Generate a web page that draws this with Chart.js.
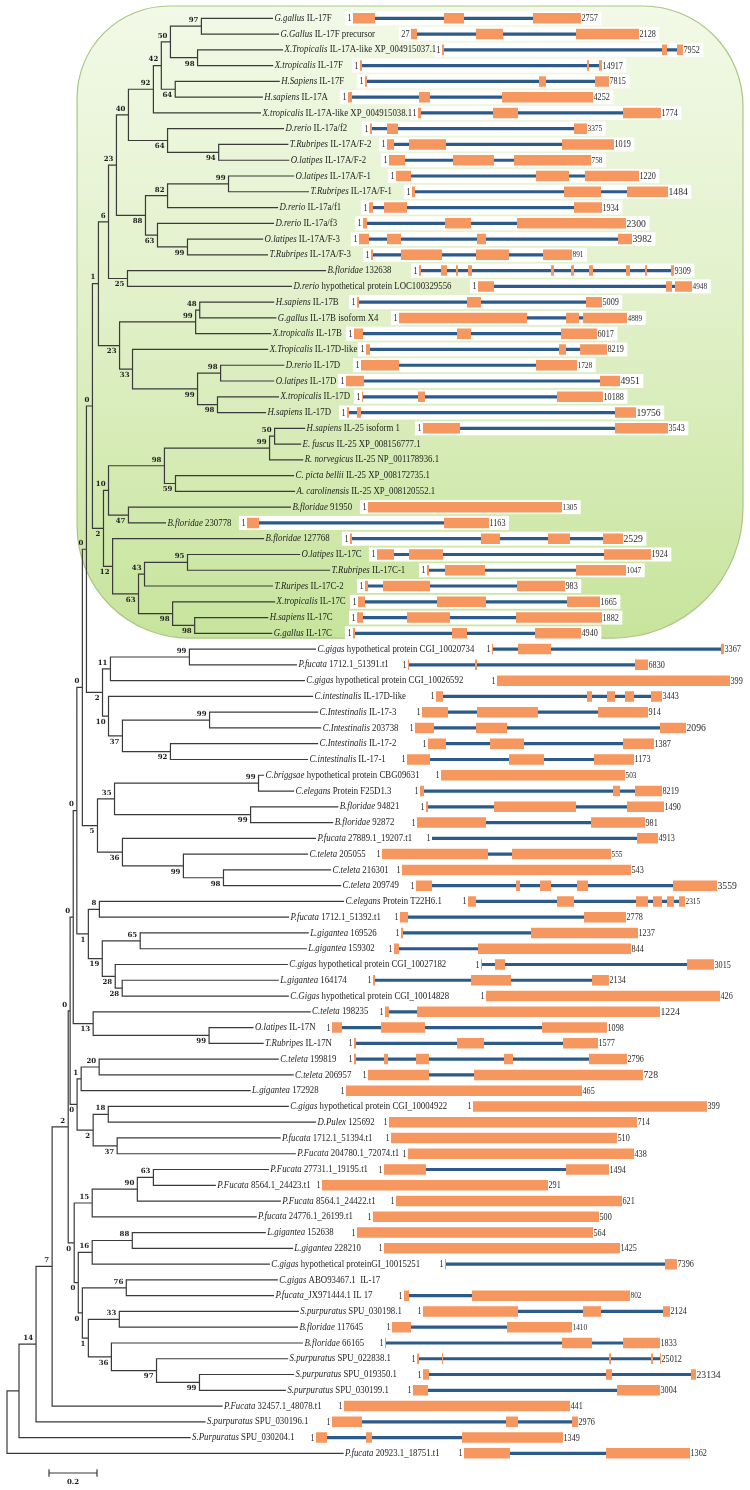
<!DOCTYPE html>
<html><head><meta charset="utf-8">
<script src="https://cdn.jsdelivr.net/npm/chart.js@4.4.1/dist/chart.umd.min.js"></script>
<style>html,body{margin:0;padding:0;background:#fff}#wrap{width:750px;height:1490px;position:relative}</style>
</head><body><div id="wrap"><canvas id="c" width="750" height="1490"></canvas></div>
<script>
// ---------- DATA ----------
const leafSpecies = ["G.gallus","G.Gallus","X.Tropicalis","X.tropicalis","H.Sapiens","H.sapiens","X.tropicalis","D.rerio","T.Rubripes","O.latipes",
"O.latipes","T.Rubripes","D.rerio","D.rerio","O.latipes","T.Rubripes","B.floridae","D.rerio","H.sapiens","G.gallus",
"X.tropicalis","X.Tropicalis","D.rerio","O.latipes","X.tropicalis","H.sapiens","H.sapiens","E. fuscus","R. norvegicus","C. picta bellii",
"A. carolinensis","B.floridae","B.floridae","B.floridae","O.latipes","T.Rubripes","T.Ruripes","X.tropicalis","H.sapiens","G.gallus",
"C.gigas","P.fucata","C.gigas","C.intestinalis","C.Intestinalis","C.Intestinalis","C.Intestinalis","C.intestinalis","C.briggsae","C.elegans",
"B.floridae","B.floridae","P.fucata","C.teleta","C.teleta","C.teleta","C.elegans","P.fucata","L.gigantea","L.gigantea",
"C.gigas","L.gigantea","C.Gigas","C.teleta","O.latipes","T.Rubripes","C.teleta","C.teleta","L.gigantea","C.gigas",
"D.Pulex","P.fucata","P.Fucata","P.Fucata","P.Fucata","P.Fucata","P.fucata","L.gigantea","L.gigantea","C.gigas",
"C.gigas","P.fucata","S.purpuratus","B.floridae","B.floridae","S.purpuratus","S.purpuratus","S.purpuratus","P.Fucata","S.purpuratus",
"S.Purpuratus","P.fucata"];
const leafProtein = ["IL-17F","IL-17F precursor","IL-17A-like XP_004915037.1","IL-17F","IL-17F","IL-17A","IL-17A-like XP_004915038.1","IL-17a/f2","IL-17A/F-2","IL-17A/F-2",
"IL-17A/F-1","IL-17A/F-1","IL-17a/f1","IL-17a/f3","IL-17A/F-3","IL-17A/F-3","132638","hypothetical protein LOC100329556","IL-17B","IL-17B isoform X4",
"IL-17B","IL-17D-like","IL-17D","IL-17D","IL-17D","IL-17D","IL-25 isoform 1","IL-25 XP_008156777.1","IL-25 NP_001178936.1","IL-25 XP_008172735.1",
"IL-25 XP_008120552.1","91950","230778","127768","IL-17C","IL-17C-1","IL-17C-2","IL-17C","IL-17C","IL-17C",
"hypothetical protein CGI_10020734","1712.1_51391.t1","hypothetical protein CGI_10026592","IL-17D-like","IL-17-3","203738","IL-17-2","IL-17-1","hypothetical protein CBG09631","Protein F25D1.3",
"94821","92872","27889.1_19207.t1","205055","216301","209749","Protein T22H6.1","1712.1_51392.t1","169526","159302",
"hypothetical protein CGI_10027182","164174","hypothetical protein CGI_10014828","198235","IL-17N","IL-17N","199819","206957","172928","hypothetical protein CGI_10004922",
"125692","1712.1_51394.t1","204780.1_72074.t1","27731.1_19195.t1","8564.1_24423.t1","8564.1_24422.t1","24776.1_26199.t1","152638","228210","hypothetical proteinGI_10015251",
"ABO93467.1  IL-17","_JX971444.1 IL 17","SPU_030198.1","117645","66165","SPU_022838.1","SPU_019350.1","SPU_030199.1","32457.1_48078.t1","SPU_030196.1",
"SPU_030204.1","20923.1_18751.t1"];

// terminal branch lengths (substitutions/site)
const leafBranch = [0.296,0.321,0.354,0.313,0.433,0.363,0.446,0.483,0.288,0.292,
0.271,0.333,0.458,0.483,0.313,0.333,0.825,0.683,0.308,0.317,
0.313,0.563,0.263,0.221,0.254,0.2,0.125,0.108,0.138,0.492,
0.496,0.675,0.154,0.629,0.467,0.592,0.533,0.425,0.304,0.321,
0.525,0.446,0.808,0.85,0.45,0.463,0.613,0.571,0.021,0.146,
0.363,0.342,0.804,0.517,0.446,0.488,1.017,0.788,0.7,0.692,
0.717,0.65,0.692,0.904,0.183,0.225,0.746,0.808,0.704,0.75,
0.863,0.679,0.742,0.479,0.258,0.596,0.683,0.554,0.667,0.738,
0.629,0.613,0.746,0.742,0.796,0.546,0.392,0.358,0.708,0.704,
0.713,1.4];

// internal clades: [id, child1, child2, bootstrap, branch length]; numbers = leaf rows
const cladeTable = [
["A",1,2,97,0.129],["B",3,4,98,0.113],["C","A","B",50,0.038],["D",5,6,64,0.058],["E","C","D",42,0.033],["F","E",7,92,0.104],
["G",9,10,94,0.213],["H",8,"G",64,0.163],["I","F","H",40,0.05],["J",11,12,99,0.254],["K","J",13,82,0.092],["L",15,16,99,0.125],
["M",14,"L",63,0.05],["N","K","M",88,0.121],["O","I","N",23,0.033],["P",17,18,25,0.079],["Q","O","P",6,0.042],
["R",19,20,48,0.017],["S","R",21,99,0.317],["T",23,24,98,0.096],["U",25,26,98,0.083],["V","T","U",99,0.271],["W",22,"V",33,0.054],
["X","S","W",23,0.088],["Y","Q","X",1,0.025],["Z",27,28,50,0.021],["AA","Z",29,99,0.438],["AB",30,31,59,0.046],["AC","AA","AB",98,0.233],
["AD",32,33,47,0.083],["AE","AC","AD",10,0.021],["AF",35,36,95,0.179],["AG","AF",37,43,0.025],["AH",39,40,98,0.092],["AI",38,"AH",98,0.142],
["AJ","AG","AI",63,0.108],["AK",34,"AJ",12,0.038],["AL","AE","AK",2,0.046],["AM","Y","AL",0,0.025],
["AO",41,42,99,0.329],["AP","AO",43,11,0.033],["AQ",45,46,99,0.363],["AR",47,48,92,0.2],["AS","AQ","AR",37,0.058],["AT",44,"AS",10,0.025],
["AU","AP","AT",2,0.067],["AN","AM","AU",0,0.017],["AW",49,50,99,0.6],["AX",51,52,99,0.567],["AY","AW","AX",35,0.071],["AZ",55,56,98,0.167],
["BA",54,"AZ",99,0.254],["BB",53,"BA",36,0.104],["BC","AY","BB",5,0.063],["BD","AN","BC",0,0.023],["BG",57,58,8,0.046],["BI",59,60,65,0.158],
["BJ",62,63,28,0.029],["BK",61,"BJ",28,0.054],["BL","BI","BK",19,0.058],["BF","BG","BL",1,0.048],["BE","BD","BF",0,0.015],
["BO",65,66,99,0.483],["BN",64,"BO",13,0.083],["BM","BE","BN",0,0.013],["BP",67,68,20,0.075],["BQ","BP",69,1,0.017],["BR",70,71,18,0.063],
["BS",72,73,37,0.1],["BT","BR","BS",2,0.067],["BU","BQ","BT",0,0.029],["BV","BM","BU",0,0.008],["BX",74,75,63,0.067],["BY","BX",76,90,0.188],
["BZ","BY",77,15,0.075],["CA",78,79,88,0.167],["CB","CA",80,16,0.058],["CC",81,82,76,0.183],["CD",83,84,33,0.129],["CE",87,88,99,0.179],
["CF",86,"CE",97,0.188],["CG",85,"CF",36,0.096],["CH","CD","CG",1,0.025],["CI","CC","CH",0,0.017],["CJ","CB","CI",0,0.017],["CK","BZ","CJ",0,0.025],
["BW","BV","CK",2,0.067],["CL","BW",89,7,0.067],["CM","CL",90,14,0.071],["CN","CM",91,null,0.05],["ROOT","CN",92,null,0]];

// gene structures: exon [start,end] on the gene track (relative units); intron line spans first..last
const geneExons = [
[[70.6,75],[88.8,92.8],[106.6,116.2]],
[[82.2,83.4],[95.2,100.6],[115.2,127.8]],
[[88.4,88.8],[132.4,133.4],[135.4,136.6]],
[[72,72.4],[117.4,117.8],[119.8,120.4]],
[[73,73.4],[107.8,109.2],[119,121.8]],
[[69.6,70.4],[83.8,86],[100.4,118.6]],
[[83.6,84.2],[98.6,103.6],[124.6,132.2]],
[[74,74.4],[77.4,79.6],[114.8,117.4]],
[[77.4,78.8],[81.8,89.2],[112.4,122.8]],
[[77.8,81],[90.6,98.8],[102.8,118.2]],
[[79.2,82.2],[107.2,113.8],[117,127.8]],
[[82.4,83],[112.8,120.2],[125.4,133.6]],
[[73.8,74.6],[76.8,81.4],[114.8,120.4]],
[[72.6,73.4],[89,94.2],[103.4,125.2]],
[[71.8,73.8],[77.4,80.2],[95.4,97.2],[123.6,126.4]],
[[74.2,74.6],[80.2,88.4],[95.2,101.8],[108.6,114.4]],
[[83.8,84.2],[88.2,89.4],[91.2,91.6],[93.6,94.4],[110.2,110.8],[114.2,114.8],[117.8,118.6],[125.2,126],[129,129.4],[134.2,134.8]],
[[95.6,98.8],[133.2,134.4],[135,138.4]],
[[71.4,71.8],[93.4,96.2],[117.2,120.4]],
[[79.8,105.4],[113.2,115.8],[116.6,125.4]],
[[70.8,72.6],[91.4,94.2],[112.2,119.4]],
[[73.2,74],[111.8,113.2],[116,121.4]],
[[72.2,79.8],[107.2,115.4]],
[[69.2,72.8],[120,124]],
[[72.4,72.6],[83.6,85],[111.4,120.6]],
[[69.4,69.8],[71.4,72.2],[123,127.2]],
[[84.6,92],[123,133.6]],
null,null,null,null,
[[73.6,112.4]],
[[49.4,51.8],[88.8,97.8]],
[[70,70.4],[96.2,100],[109.6,114],[120.6,124.6]],
[[75.4,78.8],[81.8,88.6],[120.8,130.2]],
[[85.4,85.8],[89,97],[115.2,125.2]],
[[73,73.6],[76.6,86],[103.4,113]],
[[71.6,73],[87.4,97.2],[113.4,120]],
[[71.4,72.6],[81.4,90],[103.2,120.4]],
[[70.6,71],[90.4,93.4],[107,116.2]],
[[98.4,98.6],[103.6,110.2],[144.2,144.8]],
[[81.6,81.8],[95,95.4],[127,129.6]],
[[99.4,146]],
[[87.2,88.6],[117.4,118.4],[121.4,123],[125,126.8],[130.2,132.4]],
[[84.4,89.6],[95.4,107.6],[119.6,129.6]],
[[83,86.8],[95.2,101.4],[132,137.2]],
[[85.6,89.2],[98,104.8],[124.6,130.8]],
[[81.4,86],[101.8,108.8],[118.8,126.8]],
[[88.2,125]],
[[84,84.8],[122.6,124],[127,132.4]],
[[85.2,85.6],[98.8,115.2],[125.4,132.8]],
[[83.4,97.2],[118.2,129]],
[[86.4,86.6],[127.4,131.6]],
[[76.4,97.6],[102.4,122.2]],
[[80.4,126.2]],
[[83.2,86.4],[103.2,104],[108,110.2],[115.4,117.6],[134.6,143.4]],
[[93.6,95.2],[111.4,114.8],[127.2,129.6],[130.6,132.4],[133.4,134.8],[135.8,137]],
[[80,81.6],[116.8,125.2]],
[[80.2,80.6],[106.2,127.6]],
[[78.8,79.8],[95.6,126.2]],
[[96.2,96.4],[99,101],[137.4,142.8]],
[[74.6,75],[94.2,102.2],[118.4,121.8]],
[[97.2,144]],
[[77,77.8],[83.4,132]],
[[66.4,68.4],[76.2,85],[108.4,121.4]],
[[70.8,71.2],[91.4,96.8],[112.6,119.6]],
[[70.8,71.2],[76.8,77.6],[83.2,85.8],[100.8,102.6],[117.8,125.4]],
[[73.6,85.8],[94.8,128.6]],
[[69.2,116.4]],
[[94.6,141.4]],
[[77.8,127.4]],
[[78.2,123.4]],
[[81.6,126.8]],
[[76.8,85.2],[113.2,121.8]],
[[64.4,109.6]],
[[79.2,124.4]],
[[74.6,119.8]],
[[71.4,118.6]],
[[76.8,124]],
[[89,89.2],[133,135.4]],
null,
[[80.8,81.8],[94.4,126]],
[[84.6,103.6],[116.6,120.2],[132.6,134]],
[[78.4,82.2],[101.4,114.4]],
[[77,77.2],[112.4,118.4],[124.6,132]],
[[83.4,83.8],[88.4,88.6],[121.8,122.2],[130.2,130.6],[132,132.2]],
[[84.6,85.8],[121.2,122.4],[138.2,139.2]],
[[82.6,85.6],[123.4,132]],
[[68.8,114]],
[[66.4,72.4],[101.2,103.6],[114.4,115.6]],
[[63.2,65.4],[73.2,74.4],[92.4,112.6]],
[[92.8,102],[121.2,138]]];

const geneLength = ["2757","2128","7952","14917","7815","4252","1774","3375","1019","758",
"1220","1484","1934","2300","3982","891","9309","4948","5009","4889",
"6017","8219","1728","4951","10188","19756","3543","","","",
"","1305","1163","2529","1924","1047","983","1665","1882","4940",
"3367","6830","399","3443","914","2096","1387","1173","503","8219",
"1490","981","4913","555","543","3559","2315","2778","1237","844",
"3015","2134","426","1224","1098","1577","2796","728","465","399",
"714","510","438","1494","291","621","500","564","1425","7396",
"","802","2124","1410","1833","25012","23134","3004","441","2976",
"1349","1362"];
const geneFirst = geneLength.map((v, i) => i === 1 ? "27" : "1");

const scaleBarLength = 0.2;

// ---------- LAYOUT (from data) ----------
const clades = {};
cladeTable.forEach(([id, a, b, sup, bl]) => { clades[id] = {kids: [a, b], support: sup, branch: bl}; });
const nodeList = [], leafPos = [];
function layout(key, parentDepth, side) {
  if (typeof key === 'number') {
    const p = {x: parentDepth + leafBranch[key - 1], y: key, leaf: key, side};
    leafPos[key - 1] = p; return p;
  }
  const c = clades[key];
  const d = parentDepth + c.branch;
  const kids = c.kids.map((k, i) => layout(k, d, i === 0 ? 'up' : 'down'));
  const p = {x: d, y: (kids[0].y + kids[kids.length - 1].y) / 2, kids, support: c.support, side, parentX: parentDepth};
  nodeList.push(p); return p;
}
layout("ROOT", 0, null);

const GAP = {x: NaN, y: NaN};
const treeData = [];
nodeList.forEach(n => {
  treeData.push({x: n.x, y: n.kids[0].y}, {x: n.x, y: n.kids[n.kids.length - 1].y}, GAP);
  n.kids.forEach(k => treeData.push({x: n.x, y: k.y}, {x: k.x, y: k.y}, GAP));
});
// scale bar
const sbY = 93.245, sbX0 = 0.175;
treeData.push({x: sbX0, y: sbY}, {x: sbX0 + scaleBarLength, y: sbY}, GAP,
  {x: sbX0, y: sbY - 0.2}, {x: sbX0, y: sbY + 0.2}, GAP,
  {x: sbX0 + scaleBarLength, y: sbY - 0.2}, {x: sbX0 + scaleBarLength, y: sbY + 0.2}, GAP);

const intronData = [], exonData = [];
geneExons.forEach((ex, i) => {
  if (!ex) return;
  const row = i + 1;
  intronData.push({x: ex[0][0], y: row}, {x: ex[ex.length - 1][1], y: row}, GAP);
  ex.forEach(([a, b]) => exonData.push({x: a, y: row}, {x: b, y: row}, GAP));
});

// ---------- STYLE ----------
const SERIF = '"Liberation Serif","Times New Roman",serif';
const BOLDF = 'bold 7px "DejaVu Serif",serif';
const bigLen = new Set([12,14,15,24,26,34,46,56,64,68,87]);
const smallLen = new Set([8,10,16,18,20,23,32,36,49,54,57,82,84]);

function txt(ctx, s, x, y, font, align, sx) {
  ctx.save(); ctx.font = font; ctx.textAlign = align; ctx.textBaseline = 'middle';
  ctx.translate(x, y); ctx.scale(sx, 1); ctx.fillText(s, 0, 0); ctx.restore();
}
function tw(ctx, s, font, sx) { ctx.save(); ctx.font = font; const w = ctx.measureText(s).width * sx; ctx.restore(); return w; }
function lenFont(row) {
  if (bigLen.has(row)) return ['11px ' + SERIF, 0.88];
  if (smallLen.has(row)) return ['8px ' + SERIF, 0.92];
  return ['9.5px ' + SERIF, 0.86];
}

const decor = {
  id: 'decor',
  beforeDatasetsDraw(chart) {
    const ctx = chart.ctx, xs = chart.scales.x, gs = chart.scales.g, ys = chart.scales.y;
    const L = xs.getPixelForValue(0.292), R = gs.getPixelForValue(148.6);
    const T = ys.getPixelForValue(0.22), B = ys.getPixelForValue(40.3);
    ctx.save();
    const grd = ctx.createLinearGradient(0, T, 0, B);
    grd.addColorStop(0, '#F2F9E7'); grd.addColorStop(0.45, '#E2F1CB'); grd.addColorStop(1, '#C7E49C');
    ctx.beginPath(); ctx.roundRect(L, T, R - L, B - T, [92, 100, 130, 112]);
    ctx.fillStyle = grd; ctx.fill();
    ctx.strokeStyle = '#A9C783'; ctx.lineWidth = 1.2; ctx.stroke();
    // white bands behind gene tracks
    ctx.fillStyle = '#FFFFFF';
    geneExons.forEach((ex, i) => {
      if (!ex) return;
      const row = i + 1, y = ys.getPixelForValue(row);
      const [f, sx] = lenFont(row);
      const x0 = gs.getPixelForValue(ex[0][0]) - tw(ctx, geneFirst[i], '9.5px ' + SERIF, 0.86) - 4;
      const x1 = gs.getPixelForValue(ex[ex.length - 1][1]) + tw(ctx, geneLength[i], f, sx) + 4;
      ctx.fillRect(x0, y - 7, x1 - x0, 14);
    });
    ctx.restore();
  },
  afterDatasetsDraw(chart) {
    const ctx = chart.ctx, xs = chart.scales.x, gs = chart.scales.g, ys = chart.scales.y;
    ctx.save(); ctx.fillStyle = '#1e1e1e';
    const itF = 'italic 10px ' + SERIF, rgF = '10px ' + SERIF, SX = 0.88;
    leafPos.forEach((p, i) => {
      const x = xs.getPixelForValue(p.x) + 2, y = ys.getPixelForValue(p.y);
      const sp = leafSpecies[i], rest = leafProtein[i];
      txt(ctx, sp, x, y, itF, 'left', SX);
      const w = tw(ctx, sp, itF, SX) + (rest.startsWith('_') ? 0 : tw(ctx, ' ', rgF, SX));
      txt(ctx, rest, x + w, y, rgF, 'left', SX);
    });
    nodeList.forEach(n => {
      if (n.support === null || n.support === undefined) return;
      const x = xs.getPixelForValue(n.x) - 3;
      const y = ys.getPixelForValue(n.y) + (n.side === 'up' ? -6 : 6);
      txt(ctx, String(n.support), x, y, BOLDF, 'right', 1);
    });
    ctx.fillStyle = '#2a2a2a';
    geneExons.forEach((ex, i) => {
      if (!ex) return;
      const row = i + 1, y = ys.getPixelForValue(row) + 0.5;
      txt(ctx, geneFirst[i], gs.getPixelForValue(ex[0][0]) - 1.5, y, '9.5px ' + SERIF, 'right', 0.86);
      const [f, sx] = lenFont(row);
      txt(ctx, geneLength[i], gs.getPixelForValue(ex[ex.length - 1][1]) + 0.5, y, f, 'left', sx);
    });
    ctx.fillStyle = '#1e1e1e';
    txt(ctx, String(scaleBarLength), xs.getPixelForValue(sbX0 + scaleBarLength / 2), ys.getPixelForValue(sbY) + 9, BOLDF, 'center', 1);
    ctx.restore();
  }
};

new Chart(document.getElementById('c'), {
  type: 'line',
  data: {datasets: [
    {label: 'exons', data: exonData, xAxisID: 'g', yAxisID: 'y', borderColor: '#F6975F', borderWidth: 10.5, borderCapStyle: 'butt', pointRadius: 0, tension: 0, spanGaps: false, fill: false, order: 0},
    {label: 'introns', data: intronData, xAxisID: 'g', yAxisID: 'y', borderColor: '#2C5B8B', borderWidth: 3.2, borderCapStyle: 'butt', pointRadius: 0, tension: 0, spanGaps: false, fill: false, order: 1},
    {label: 'tree', data: treeData, xAxisID: 'x', yAxisID: 'y', borderColor: '#3a3a3a', borderWidth: 1.2, borderCapStyle: 'square', pointRadius: 0, tension: 0, spanGaps: false, fill: false, order: 2}
  ]},
  options: {
    responsive: false, animation: false, devicePixelRatio: 1, events: [],
    layout: {padding: 0},
    plugins: {legend: {display: false}, tooltip: {enabled: false}, title: {display: false}},
    scales: {
      x: {type: 'linear', display: false, min: -7 / 240, max: -7 / 240 + 750 / 240},
      g: {type: 'linear', axis: 'x', display: false, min: 0, max: 150},
      y: {type: 'linear', display: false, reverse: true, min: -0.1604, max: 94.3226}
    }
  },
  plugins: [decor]
});
</script></body></html>
